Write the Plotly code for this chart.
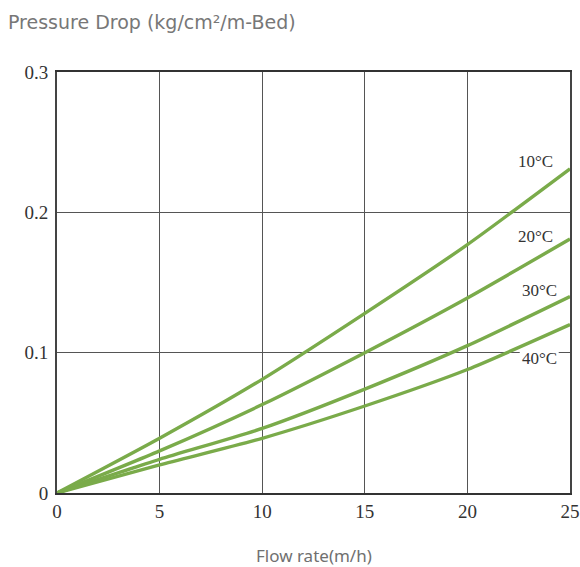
import plotly.graph_objects as go

flow = [0, 5, 10, 15, 20, 25]
dp_10c = [0, 0.039, 0.081, 0.128, 0.177, 0.231]
dp_20c = [0, 0.030, 0.063, 0.100, 0.139, 0.181]
dp_30c = [0, 0.024, 0.046, 0.074, 0.105, 0.140]
dp_40c = [0, 0.020, 0.039, 0.062, 0.088, 0.120]
series_names = ["10°C", "20°C", "30°C", "40°C"]
label_pos_x = [23.3, 23.3, 23.5, 23.5]
label_pos_y = [0.236, 0.183, 0.144, 0.096]

x_ticks = [0, 5, 10, 15, 20, 25]
y_ticks = [0, 0.1, 0.2, 0.3]
y_tick_text = ["0", "0.1", "0.2", "0.3"]

green = "#7aab4a"
W, H = 580, 567
fig = go.Figure()
for name, ys in zip(series_names, [dp_10c, dp_20c, dp_30c, dp_40c]):
    fig.add_trace(go.Scatter(x=flow, y=ys, mode="lines", name=name,
                             line=dict(color=green, width=3.4, shape="spline", smoothing=0.6),
                             showlegend=False, hoverinfo="skip"))

serif = "Liberation Serif"
for name, lx, ly in zip(series_names, label_pos_x, label_pos_y):
    fig.add_annotation(x=lx, y=ly, text=name, showarrow=False,
                       font=dict(family=serif, size=17, color="#333"),
                       xanchor="center", yanchor="middle")
    if name == "40°C":
        # white gap in the gridline behind the label (drawn under the curves)
        fig.add_shape(type="rect", layer="between", x0=lx - 0.95, x1=lx + 0.95,
                      y0=ly - 0.007, y1=ly + 0.008, fillcolor="white", line_width=0)

fig.add_annotation(xref="paper", yref="paper", x=0.5, y=-0.148, text="Flow rate(m/h)",
                   showarrow=False, font=dict(family="Noto Sans", size=17, color="#707070"),
                   xanchor="center", yanchor="middle")

fig.update_layout(
    width=W, height=H,
    margin=dict(l=57, r=10, t=72, b=74, autoexpand=False),
    paper_bgcolor="white", plot_bgcolor="white",
    title=dict(text="Pressure Drop (kg/cm²/m-Bed)", xref="container", yref="container",
               x=8 / W, y=1 - 22 / H, xanchor="left", yanchor="middle",
               font=dict(family="DejaVu Sans", size=19, color="#777777")),
    xaxis=dict(range=[0, 25], tickvals=x_ticks, showgrid=True, gridcolor="#555", gridwidth=1,
               zeroline=False, showline=True, linecolor="#333", linewidth=2, mirror=True,
               ticks="", tickfont=dict(family=serif, size=19, color="#333")),
    yaxis=dict(range=[0, 0.3], tickvals=y_ticks, ticktext=y_tick_text, showgrid=True,
               gridcolor="#555", gridwidth=1, zeroline=False, showline=True, linecolor="#444",
               linewidth=2, mirror=True, ticks="", ticklabelstandoff=3,
               tickfont=dict(family=serif, size=19, color="#333")),
)

fig.write_html("out.html", config={"displayModeBar": False},
               post_script="document.body.style.margin='0';")
